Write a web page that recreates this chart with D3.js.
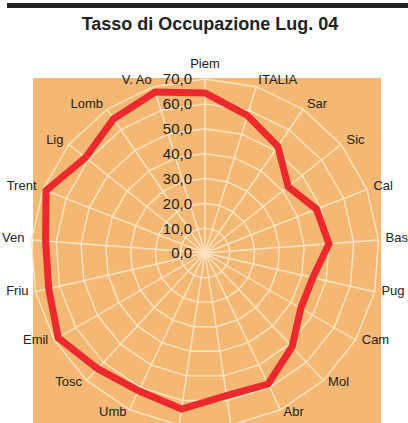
<!DOCTYPE html>
<html>
<head>
<meta charset="utf-8">
<script src="https://cdn.jsdelivr.net/npm/d3@7"></script>
<style>
  body { margin: 0; background: #fff; }
  svg { display: block; font-family: "Liberation Sans", Arial, sans-serif; }
</style>
</head>
<body>
<svg width="408" height="423"></svg>
<script>
// regions clockwise from the top
const categories = ["Piem", "ITALIA", "Sar", "Sic", "Cal", "Bas", "Pug", "Cam", "Mol", "Abr",
    "Laz", "Mar", "Umb", "Tosc", "Emil", "Friu", "Ven", "Trent", "Lig", "Lomb", "V. Ao"];
const occupazione = [64.4, 57.9, 52.0, 42.8, 48.2, 50.0, 44.5, 44.5, 51.5, 58.5,
    58.0, 63.5, 61.5, 63.5, 68.2, 64.5, 64.3, 68.7, 61.5, 65.3, 67.8];
const ticks = [0, 10, 20, 30, 40, 50, 60, 70];

const svg = d3.select("svg");
const cx = 205, cy = 253, R = 174;

const r = d3.scaleLinear().domain([0, 70]).range([0, R]);
const angle = d3.scalePoint().domain(categories).range([0, 2 * Math.PI]).padding(0);
// scalePoint over the full turn would put the last on top of the first, so use step
const step = 2 * Math.PI / categories.length;
const ang = (d, i) => i * step;

const fmt = v => d3.format(".1f")(v).replace(".", ",");

// top bar
svg.append("rect")
    .attr("x", 7).attr("y", 3)
    .attr("width", 401).attr("height", 5)
    .style("fill", "#222");

svg.append("text")
    .attr("x", 210).attr("y", 30)
    .attr("text-anchor", "middle")
    .style("font-size", "18px")
    .style("font-weight", "bold")
    .style("fill", "#222")
    .text("Tasso di Occupazione Lug. 04");

// plot area
svg.append("rect")
    .attr("x", cx - 172).attr("y", cy - 175)
    .attr("width", 348).attr("height", 352)
    .style("fill", "#f2b874");

const g = svg.append("g").attr("transform", `translate(${cx},${cy})`);

// rings
const ring = d3.lineRadial()
    .angle(ang)
    .curve(d3.curveLinearClosed);

g.selectAll(".ring")
    .data(ticks.slice(1))
    .enter()
    .append("path")
    .attr("class", "ring")
    .attr("d", t => ring.radius(r(t))(categories))
    .style("fill", "none")
    .style("stroke", "#fde4c2")
    .style("stroke-width", 1.4);

// spokes
g.selectAll(".spoke")
    .data(categories)
    .enter()
    .append("line")
    .attr("class", "spoke")
    .attr("x1", 0).attr("y1", 0)
    .attr("x2", (d, i) => r(70) * Math.sin(ang(d, i)))
    .attr("y2", (d, i) => -r(70) * Math.cos(ang(d, i)))
    .style("stroke", "#fde4c2")
    .style("stroke-width", 1.4);

// series
const line = d3.lineRadial()
    .angle(ang)
    .radius(d => r(d))
    .curve(d3.curveLinearClosed);

g.append("path")
    .attr("d", line(occupazione))
    .style("fill", "none")
    .style("stroke", "#ec2a2e")
    .style("stroke-width", 7)
    .style("stroke-linejoin", "miter");

// value labels along the first spoke
g.selectAll(".tick")
    .data(ticks)
    .enter()
    .append("text")
    .attr("class", "tick")
    .attr("x", -13)
    .attr("y", t => -r(t))
    .attr("dy", "0.36em")
    .attr("text-anchor", "end")
    .style("font-size", "15px")
    .style("fill", "#222")
    .text(fmt);

// category labels
g.selectAll(".cat")
    .data(categories)
    .enter()
    .append("text")
    .attr("class", "cat")
    .attr("x", (d, i) => 181 * Math.sin(ang(d, i)))
    .attr("y", (d, i) => {
        const s = Math.sin(ang(d, i)), c = Math.cos(ang(d, i));
        let y = -178.5 * c - 2.5;
        if (Math.abs(s) < 0.05) y += c > 0 ? -9 : 9;
        return y;
    })
    .attr("dy", "0.35em")
    .attr("text-anchor", (d, i) => {
        const s = Math.sin(ang(d, i));
        return Math.abs(s) < 0.05 ? "middle" : (s > 0 ? "start" : "end");
    })
    .style("font-size", "13px")
    .style("fill", "#222")
    .text(d => d);
</script>
</body>
</html>
